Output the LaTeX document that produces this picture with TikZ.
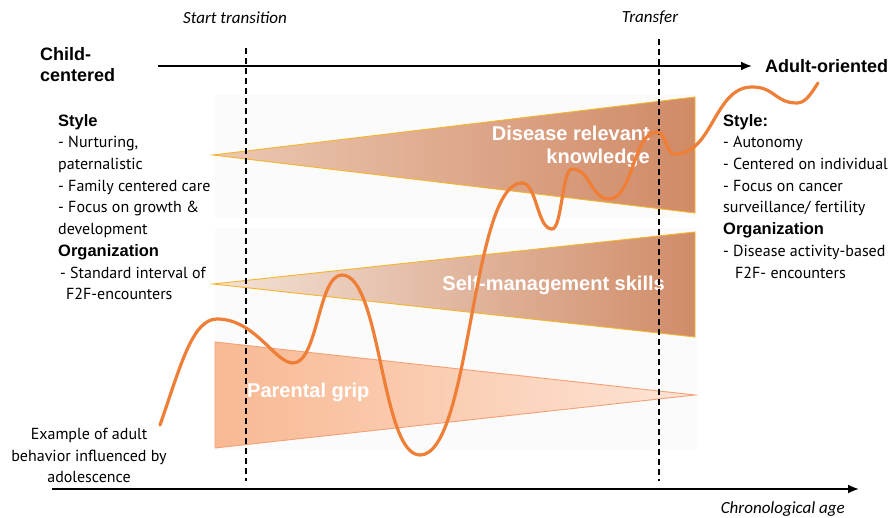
\documentclass[tikz,border=0pt]{standalone}
\usepackage{fontspec}
\setmainfont{PT Sans}
\newfontfamily\arialfont{Liberation Sans}
\newfontfamily\calfont{Carlito}
\usetikzlibrary{arrows.meta}
\definecolor{wedgeline}{HTML}{F5B52A}
\definecolor{knowL}{HTML}{ECC8B3}
\definecolor{knowR}{HTML}{D08A66}
\definecolor{skillL}{HTML}{F3E2D7}
\definecolor{skillR}{HTML}{D08C68}
\definecolor{gripline}{HTML}{F3A074}
\definecolor{gripL}{HTML}{F8B993}
\definecolor{gripR}{HTML}{FDE4D6}
\definecolor{trajectory}{HTML}{EF7E36}
\newcommand\hdr{\arialfont\bfseries\fontsize{16.5}{21.7}\selectfont}
\tikzset{
  axis/.style={line width=1.8pt,-{Latex[length=11pt,width=9pt]}},
  marker/.style={line width=1.4pt,dash pattern=on 6pt off 4pt},
  wedge/.style={draw=wedgeline,line width=0.9pt},
  grip/.style={draw=gripline,line width=0.9pt,left color=gripL,right color=gripR},
  curve/.style={draw=trajectory,line width=3.2pt,line cap=round},
  endlabel/.style={font=\arialfont\bfseries\fontsize{18}{21}\selectfont,inner sep=0pt},
  inlabel/.style={font=\arialfont\bfseries\fontsize{20}{23}\selectfont,text=white,inner sep=0pt},
  milestone/.style={font=\calfont\itshape\fontsize{17}{20}\selectfont,inner sep=0pt},
  block/.style={font=\fontsize{16}{21.7}\selectfont,align=left,inner sep=0pt,anchor=north west},
}
\begin{document}
\begin{tikzpicture}[x=1pt,y=-1pt]
\useasboundingbox (0,0) rectangle (895,518);

% faint panels behind the three bands
\fill[black!1.5] (215,95) rectangle (697,218);
\fill[black!1.5] (215,228) rectangle (697,340);
\fill[black!1.5] (215,340) rectangle (697,450);

% bands
\path[wedge,left color=knowL,right color=knowR] (213,155) -- (695,97) -- (695,213) -- cycle;
\path[wedge,left color=skillL,right color=skillR] (213,284) -- (695,232) -- (695,337) -- cycle;
\path[grip] (215,342) -- (695,395) -- (215,448) -- cycle;

\node[inlabel,align=right,anchor=north east] (know) at (650,126) {Disease relevant\\knowledge};
\node[inlabel,anchor=east] (self) at (665,285) {Self-management skills};
\node[inlabel,anchor=west] (grip) at (247,392) {Parental grip};

% time markers
\coordinate (s1) at (246,48);
\coordinate (s2) at (246,481);
\coordinate (t1) at (659,39);
\coordinate (t2) at (659,481);
\draw[marker] (s1) -- (s2);
\draw[marker] (t1) -- (t2);
\node[milestone] (start) at (235,18) {Start transition};
\node[milestone] (transfer) at (650,18) {Transfer};

% axes
\coordinate (a1) at (158,66);
\coordinate (a2) at (752,66);
\draw[axis] (a1) -- (a2);
\coordinate (b1) at (52,489);
\coordinate (b2) at (859,489);
\draw[axis] (b1) -- (b2);
\node[endlabel,align=left,anchor=north west] (child) at (40,47) {Child-\\centered};
\node[endlabel,anchor=west] (adult) at (765,66) {Adult-oriented};
\node[milestone,anchor=east] (age) at (845,509) {Chronological age};

% behaviour trajectory
\draw[curve] (160,425) .. controls (180,368) and (192,319) .. (217,319)
  .. controls (255,319) and (275,363) .. (293,363)
  .. controls (318,363) and (318,275) .. (342,275)
  .. controls (381,275) and (381,455) .. (420,455)
  .. controls (471,455) and (471,183) .. (522,183)
  .. controls (537,183) and (537,229) .. (552,229)
  .. controls (562,229) and (562,169) .. (572,169)
  .. controls (590,169) and (591,199) .. (609,199)
  .. controls (633,199) and (633,132) .. (657,132)
  .. controls (666,132) and (666,154) .. (675,154)
  .. controls (713,154) and (714,87) .. (752,87)
  .. controls (775,87) and (775,103) .. (797,103)
  .. controls (806,103) and (812,92) .. (818,83);

% side descriptions
\node[block] (left) at (58,114) {{\hdr Style}\\
- Nurturing,\\
paternalistic\\
- Family centered care\\
- Focus on growth \&\\
development\\
{\hdr Organization}\\
\hspace*{2pt}- Standard interval of\\
\hspace*{8pt}F2F-encounters};

\node[block] (right) at (723,114) {{\hdr Style:}\\
- Autonomy\\
- Centered on individual\\
- Focus on cancer\\
surveillance/ fertility\\
{\hdr Organization}\\
- Disease activity-based\\
\hspace*{12pt}F2F- encounters};

\node[font=\fontsize{16}{21.7}\selectfont,align=center,inner sep=0pt,anchor=north] (example) at (89,428) {Example of adult\\behavior influenced by\\adolescence};
\end{tikzpicture}
\end{document}
